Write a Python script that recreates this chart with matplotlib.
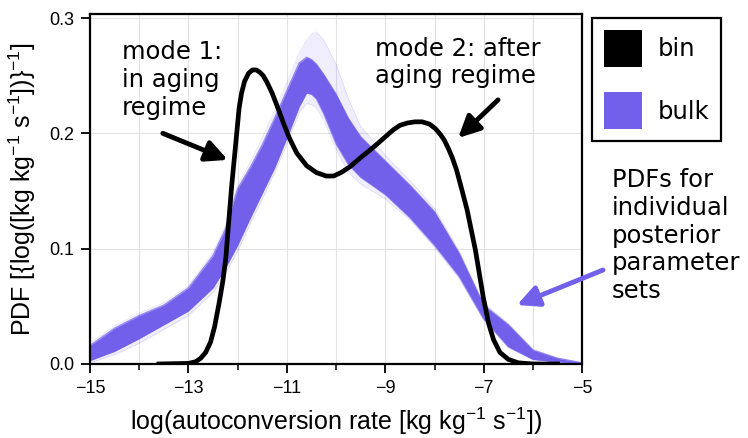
import matplotlib
matplotlib.use('Agg')
import matplotlib.pyplot as plt
from matplotlib.patches import Patch
import numpy as np

# Fonts: Arial-like for axes, DejaVu for annotations
plt.rcParams['font.family'] = 'Liberation Sans'
plt.rcParams['mathtext.fontset'] = 'custom'
plt.rcParams['mathtext.rm'] = 'Liberation Sans'
plt.rcParams['mathtext.it'] = 'Liberation Sans:italic'
plt.rcParams['axes.unicode_minus'] = True

bulk_color = '#7360EA'

# bin PDF (black line)
bin_x = [-13.6, -13.0, -12.85, -12.75, -12.65, -12.55, -12.47, -12.38, -12.3, -12.24,
         -12.18, -12.12, -12.05, -11.97, -11.92, -11.86, -11.78, -11.7, -11.62, -11.55,
         -11.48, -11.4, -11.3, -11.2, -11.07, -10.95, -10.8, -10.6, -10.4, -10.2,
         -10.05, -9.9, -9.72, -9.5, -9.24, -9.0, -8.84, -8.7, -8.55, -8.4, -8.25,
         -8.1, -7.98, -7.88, -7.8, -7.72, -7.64, -7.55, -7.45, -7.34, -7.17, -7.01,
         -6.9, -6.8, -6.67, -6.5, -6.3, -6.0, -5.5]
bin_y = [0.0, 0.0005, 0.002, 0.005, 0.010, 0.019, 0.032, 0.052, 0.072, 0.092,
         0.124, 0.155, 0.186, 0.222, 0.235, 0.245, 0.252, 0.255, 0.255, 0.253,
         0.250, 0.244, 0.235, 0.224, 0.209, 0.196, 0.183, 0.172, 0.166, 0.163,
         0.163, 0.166, 0.171, 0.179, 0.188, 0.197, 0.203, 0.207, 0.209, 0.210, 0.210,
         0.208, 0.204, 0.199, 0.194, 0.187, 0.179, 0.168, 0.152, 0.134, 0.099, 0.058,
         0.035, 0.021, 0.010, 0.004, 0.001, 0.0, 0.0]

# bulk PDFs: envelopes of the ensemble of posterior parameter sets
bulk_x = [-15.0, -14.5, -14.0, -13.5, -13.0, -12.5, -12.25, -12.0, -11.75, -11.5,
          -11.25, -11.0, -10.75, -10.6, -10.5, -10.4, -10.25, -10.0, -9.75, -9.5,
          -9.0, -8.5, -8.0, -7.5, -7.0, -6.5, -6.0, -5.5, -5.0]
dense_upper = [0.016, 0.031, 0.042, 0.051, 0.066, 0.094, 0.117, 0.152, 0.170, 0.190,
               0.213, 0.237, 0.261, 0.266, 0.264, 0.260, 0.251, 0.234, 0.213, 0.197,
               0.176, 0.155, 0.132, 0.096, 0.051, 0.034, 0.012, 0.005, 0.001]
dense_lower = [0.003, 0.011, 0.022, 0.034, 0.046, 0.066, 0.083, 0.103, 0.126, 0.148,
               0.170, 0.196, 0.223, 0.235, 0.234, 0.230, 0.217, 0.191, 0.173, 0.162,
               0.147, 0.127, 0.103, 0.076, 0.039, 0.015, 0.004, 0.002, 0.0005]
faint_upper = [0.018, 0.033, 0.044, 0.053, 0.068, 0.097, 0.120, 0.155, 0.174, 0.196,
               0.220, 0.244, 0.270, 0.281, 0.286, 0.288, 0.281, 0.260, 0.230, 0.206,
               0.181, 0.159, 0.135, 0.098, 0.053, 0.035, 0.013, 0.005, 0.001]
faint_lower = [0.001, 0.008, 0.018, 0.030, 0.042, 0.062, 0.078, 0.098, 0.121, 0.143,
               0.166, 0.191, 0.218, 0.226, 0.225, 0.222, 0.211, 0.186, 0.166, 0.156,
               0.143, 0.125, 0.101, 0.074, 0.038, 0.014, 0.004, 0.0015, 0.0003]

x_ticks = [-15, -13, -11, -9, -7, -5]
y_ticks = [0.0, 0.1, 0.2, 0.3]

fig = plt.figure(figsize=(7.48, 4.38), dpi=100)
ax = fig.add_axes([0.1203, 0.169, 0.658, 0.799])

# bulk ensemble as layered bands
ax.fill_between(bulk_x, faint_lower, faint_upper, color=bulk_color, alpha=0.1, lw=0, zorder=2)
ax.fill_between(bulk_x, dense_lower, dense_upper, color=bulk_color, alpha=1.0, lw=0, zorder=2)
for env in (faint_lower, faint_upper):
    ax.plot(bulk_x, env, color=bulk_color, lw=0.5, alpha=0.2, zorder=2)
for env in (dense_lower, dense_upper):
    ax.plot(bulk_x, env, color=bulk_color, lw=1.0, alpha=0.7, zorder=2)

# bin line
ax.plot(bin_x, bin_y, color='black', lw=3.4, solid_joinstyle='round', zorder=3)

ax.set_xlim(-15, -5)
ax.set_ylim(0, 0.3035)
ax.set_xticks(x_ticks)
ax.set_xticks(np.arange(-14, -5, 2), minor=True)
ax.set_yticks(y_ticks)
ax.set_yticklabels(['0.0', '0.1', '0.2', '0.3'])
ax.tick_params(axis='both', which='major', direction='out', length=6.5, width=1.3,
               labelsize=13, pad=5)
ax.tick_params(axis='x', which='minor', direction='out', length=4, width=1.1)
ax.grid(True, which='both', axis='x', color='#e3e3e3', lw=0.8, zorder=0)
ax.grid(True, which='major', axis='y', color='#e3e3e3', lw=0.8, zorder=0)
ax.set_axisbelow(True)
for s in ax.spines.values():
    s.set_linewidth(1.6)

ax.set_xlabel(r'log(autoconversion rate [kg kg$^{-1}$ s$^{-1}$])', fontsize=18, labelpad=6)
ax.set_ylabel(r'PDF [{log([kg kg$^{-1}$ s$^{-1}$])}$^{-1}$]', fontsize=18, labelpad=8)

# annotations
ann_font = dict(family='DejaVu Sans', fontsize=17.5, color='black')
ax.text(-14.35, 0.281, 'mode 1:\nin aging\nregime', va='top', ha='left', **ann_font)
ax.text(-9.21, 0.284, 'mode 2: after\naging regime', va='top', ha='left', **ann_font)
arrow_black = dict(arrowstyle='-|>,head_length=0.65,head_width=0.32', color='black',
                   lw=3.5, mutation_scale=20, shrinkA=0, shrinkB=0)
ax.annotate('', xy=(-12.2, 0.177), xytext=(-13.52, 0.200), arrowprops=arrow_black)
ax.annotate('', xy=(-7.52, 0.196), xytext=(-6.71, 0.229), arrowprops=arrow_black)

fig.text(612 / 748, 1 - 168 / 438, 'PDFs for\nindividual\nposterior\nparameter\nsets',
         va='top', ha='left', **ann_font)
arrow_blue = dict(arrowstyle='-|>,head_length=0.65,head_width=0.32', color=bulk_color,
                  lw=3.5, mutation_scale=20, shrinkA=0, shrinkB=0)
ax.annotate('', xy=(517, 438 - 305), xytext=(603, 438 - 270), xycoords='figure pixels',
            textcoords='figure pixels', arrowprops=arrow_blue, annotation_clip=False)

# legend
handles = [Patch(facecolor='black', edgecolor='none'),
           Patch(facecolor=bulk_color, edgecolor='none')]
leg = fig.legend(handles, ['bin', 'bulk'], loc='upper left',
                 bbox_to_anchor=(592 / 748, 1 - 18 / 438), bbox_transform=fig.transFigure,
                 borderaxespad=0, prop=dict(family='DejaVu Sans', size=17.5),
                 handlelength=1.55, handleheight=1.95, labelspacing=1.05,
                 handletextpad=0.65, borderpad=0.5, fancybox=False, framealpha=1)
leg.get_frame().set_edgecolor('black')
leg.get_frame().set_linewidth(1.6)

fig.savefig('out.png', dpi=100)
